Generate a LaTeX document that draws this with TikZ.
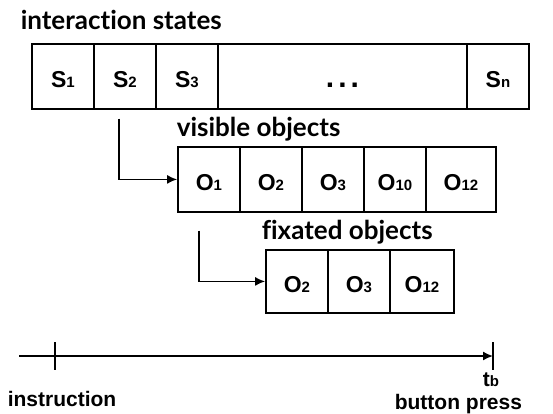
\documentclass[tikz,border=0pt]{standalone}
\usepackage{fontspec}
\setmainfont{Liberation Sans}
\newfontfamily\titlefont{Lato}[Ligatures={NoCommon,NoContextual}]
\usetikzlibrary{matrix,arrows.meta}
\newcommand{\cellname}[2]{#1{\fontsize{15}{15}\selectfont #2}}
\newcommand{\tdots}{{\fontsize{30}{30}\selectfont.\kern4pt.\kern4pt.}}

\begin{document}
\begin{tikzpicture}[x=1pt,y=-1pt,>={Latex[length=10pt,width=9pt]},line width=1.6pt]
    \tikzset{
        row/.style={matrix of nodes, anchor=north west, column sep=-\pgflinewidth,
            nodes={draw, minimum width=62, minimum height=65, inner sep=0,
                   text height=22pt, text depth=0pt,
                   font=\fontsize{23}{23}\selectfont\bfseries}},
        title/.style={anchor=base west, inner sep=0, font=\titlefont\bfseries\fontsize{26}{26}\selectfont},
        timelabel/.style={anchor=base west, inner sep=0, font=\fontsize{21}{21}\selectfont\bfseries},
    }
    \useasboundingbox (0,0) rectangle (553,414);
    \matrix (states) [row] at (27,39)
    { \cellname{S}{1} & \cellname{S}{2} & \cellname{S}{3} & |[minimum width=249]| \tdots & \cellname{S}{n} \\
    };
    \matrix (visible) [row] at (173,142)
    { \cellname{O}{1} & \cellname{O}{2} & \cellname{O}{3} & \cellname{O}{10} & |[minimum width=70]| \cellname{O}{12} \\
    };
    \matrix (fixated) [row, nodes={minimum height=63}] at (261,245)
    { \cellname{O}{2} & \cellname{O}{3} & |[minimum width=64]| \cellname{O}{12} \\
    };
    \node (states title) [title] at ([xshift=-7pt,yshift=9pt]states.north west) {interaction states};
    \node (visible title) [title] at ([xshift=3pt,yshift=6pt]visible.north west) {visible objects};
    \node (fixated title) [title] at ([yshift=6pt]fixated.north west) {fixated objects};
    \draw[->] ([xshift=-6pt,yshift=-9pt]states-1-2.south) |- (visible-1-1.west);
    \draw[->] ([xshift=-10pt,yshift=-18pt]visible-1-1.south) |- (fixated-1-1.west);
    % time line
    \coordinate (start) at (19,356);
    \coordinate (instruction) at (55,356);
    \coordinate (press) at (493,356);
    \draw[->] (start) -- (press);
    \draw ([yshift=14pt]instruction) -- ([yshift=-14pt]instruction);
    \draw ([yshift=14pt]press) -- ([yshift=-14pt]press);
    \node (instruction label) [timelabel] at (7,406) {instruction};
    \node (tb label) [timelabel] at (482,386) {\cellname{t}{b}};
    \node (press label) [timelabel] at (394,409) {button press};
\end{tikzpicture}
\end{document}
